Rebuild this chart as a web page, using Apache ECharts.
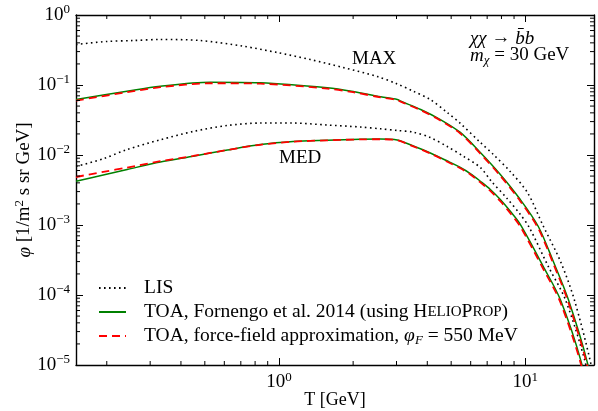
<!DOCTYPE html>
<html>
<head>
<meta charset="utf-8">
<script src="https://cdn.jsdelivr.net/npm/echarts@6/dist/echarts.min.js"></script>
<style>
  html, body { margin: 0; padding: 0; background: #fff; }
  #chart { width: 598px; height: 411px; }
</style>
</head>
<body>
<div id="chart"></div>
<script>
// axis ranges and tick values
const X_MIN = 0.15, X_MAX = 19
const Y_MIN = 1e-5, Y_MAX = 1
const X_MINOR = [0.2, 0.3, 0.4, 0.5, 0.6, 0.7, 0.8, 0.9, 2, 3, 4, 5, 6, 7, 8, 9]
const Y_MINOR = []
;[-5, -4, -3, -2, -1].forEach(k => {
  for (let m = 2; m <= 9; m++) Y_MINOR.push(m * Math.pow(10, k))
})

// [T in GeV, flux]
const maxLIS = [
  [0.150, 0.379], [0.199, 0.418], [0.256, 0.432], [0.330, 0.447], [0.479, 0.432],
  [0.716, 0.358], [0.984, 0.291], [1.34, 0.231], [1.82, 0.178], [2.51, 0.132],
  [2.99, 0.105], [3.51, 0.0815], [4.11, 0.0621], [4.82, 0.0405], [5.45, 0.0282],
  [6.57, 0.0151], [7.41, 0.0102], [8.68, 0.00581], [10.2, 0.00291], [11.8, 0.00098],
  [13.9, 0.000300], [15.8, 0.000086], [18.4, 0.0000109], [19.1, 0.0000045]
]
const maxTOA = [
  [0.150, 0.0621], [0.2415, 0.0815], [0.330, 0.0961], [0.527, 0.1096], [0.839, 0.1075],
  [1.571, 0.0912], [2.0, 0.0807], [2.588, 0.0678], [3.02, 0.0621], [3.12, 0.0587],
  [3.76, 0.0447], [4.52, 0.0321], [5.446, 0.0210], [6.567, 0.01086], [7.915, 0.00527],
  [9.54, 0.00231], [11.29, 0.000952], [12.99, 0.000301], [14.95, 0.000086],
  [17.85, 0.0000109], [18.53, 0.0000045]
]
const maxFF = [
  [0.150, 0.0600], [0.2415, 0.0788], [0.330, 0.0930], [0.527, 0.1060], [0.839, 0.1045],
  [1.571, 0.0890], [2.0, 0.0790], [2.588, 0.0665], [3.02, 0.0612], [3.12, 0.0578],
  [3.76, 0.0437], [4.52, 0.0312], [5.446, 0.0203], [6.567, 0.01045], [7.915, 0.00505],
  [9.54, 0.00219], [11.29, 0.00089], [12.99, 0.000280], [14.95, 0.000079],
  [17.85, 0.0000098], [18.53, 0.0000040]
]
const medLIS = [
  [0.150, 0.00685], [0.1935, 0.00883], [0.242, 0.0120], [0.330, 0.0165], [0.449, 0.0217],
  [0.617, 0.0264], [0.839, 0.0286], [1.14, 0.0286], [1.57, 0.0268], [2.14, 0.0251],
  [2.58, 0.0237], [3.02, 0.0224], [3.51, 0.0212], [4.11, 0.0178], [4.82, 0.0132],
  [5.60, 0.00961], [6.57, 0.00663], [7.28, 0.00422], [8.45, 0.00237], [9.55, 0.00141],
  [10.38, 0.00092], [12.4, 0.000255], [14.54, 0.000086], [17.52, 0.0000109], [18.2, 0.0000045]
]
const medTOA = [
  [0.150, 0.00422], [0.1935, 0.00518], [0.242, 0.00621], [0.330, 0.00794], [0.449, 0.00961],
  [0.617, 0.01179], [0.839, 0.0141], [1.14, 0.0156], [1.57, 0.01627], [2.14, 0.01683],
  [2.58, 0.01693], [3.02, 0.01638], [3.51, 0.01345], [4.115, 0.01069], [4.824, 0.00820],
  [5.446, 0.00663], [5.98, 0.00544], [6.567, 0.00422], [7.21, 0.00322], [7.915, 0.00231],
  [8.69, 0.00157], [9.54, 0.00102], [11.83, 0.000255], [13.87, 0.000086],
  [16.88, 0.0000109], [17.52, 0.0000045]
]
const medFF = [
  [0.150, 0.00485], [0.1935, 0.00575], [0.242, 0.00660], [0.330, 0.00815], [0.449, 0.00970],
  [0.617, 0.01180], [0.839, 0.0140], [1.14, 0.0155], [1.57, 0.0162], [2.14, 0.0167],
  [2.58, 0.0168], [3.02, 0.0162], [3.51, 0.0133], [4.115, 0.0105], [4.824, 0.0080],
  [5.446, 0.00645], [5.98, 0.00527], [6.567, 0.00406], [7.21, 0.00308], [7.915, 0.00219],
  [8.69, 0.00148], [9.54, 0.00095], [11.83, 0.000235], [13.87, 0.000079],
  [16.88, 0.0000098], [17.52, 0.0000040]
]

const NAME_LIS = 'LIS'
const NAME_HP = 'TOA, Fornengo et al. 2014 (using HelioProp)'
const NAME_FF = 'TOA, force-field approximation'

const FONT = 'Liberation Serif'

function makeRich(fs) {
  const s = Math.round(fs * 0.68)
  const lh = Math.round(fs * 1.2)
  return {
    t: {fontFamily: FONT, fontSize: fs, lineHeight: lh, color: '#000'},
    i: {fontFamily: FONT, fontSize: fs, fontStyle: 'italic', lineHeight: lh, color: '#000'},
    sup: {fontFamily: FONT, fontSize: s, verticalAlign: 'top', lineHeight: s, color: '#000'},
    subi: {fontFamily: FONT, fontSize: s, fontStyle: 'italic', verticalAlign: 'bottom', lineHeight: s, color: '#000'},
    sc: {fontFamily: FONT, fontSize: Math.round(fs * 0.78), lineHeight: lh, color: '#000'}
  }
}
const rich = makeRich(19)
const legendRich = makeRich(19.5)

function powLabel(v) {
  const e = Math.round(Math.log10(v))
  if (Math.abs(Math.log10(v) - e) > 1e-6) return ''
  return '{t|10}{sup|' + (e < 0 ? '\u2212' + (-e) : e) + '}'
}

function axisBase(min, max, pos, labels) {
  return {
    type: 'log', min: min, max: max, position: pos,
    axisLine: {show: true, onZero: false, lineStyle: {color: '#000', width: 1.4}},
    axisTick: {show: true, inside: true, length: 7, lineStyle: {color: '#000', width: 1}},
    axisLabel: {show: labels, formatter: powLabel, rich: rich, margin: 6,
      fontFamily: FONT, fontSize: 19, color: '#000'},
    splitLine: {show: false},
    minorTick: {show: false}
  }
}

const xBottom = Object.assign(axisBase(X_MIN, X_MAX, 'bottom', true), {
  name: '{t|T [GeV]}', nameLocation: 'middle', nameGap: 24, nameMoveOverlap: false,
  nameTextStyle: {rich: makeRich(18)}
})
const xTop = axisBase(X_MIN, X_MAX, 'top', false)
const yLeft = Object.assign(axisBase(Y_MIN, Y_MAX, 'left', true), {
  name: '{i|\u03c6}{t| [1/m}{sup|2}{t| s sr GeV]}', nameLocation: 'middle', nameGap: 40,
  nameMoveOverlap: false,
  nameTextStyle: {rich: rich}
})
const yRight = axisBase(Y_MIN, Y_MAX, 'right', false)

function lineSeries(name, data, style) {
  return {
    name: name, type: 'line', data: data, symbol: 'none', smooth: 0.3,
    clip: true, lineStyle: style, itemStyle: {color: style.color},
    z: style.z || 2
  }
}
const dotted = {color: '#000', width: 1.6, type: [1.6, 3.4], cap: 'butt'}
const green = {color: '#008000', width: 1.5, type: 'solid'}
const red = {color: '#ff0000', width: 1.8, type: [8, 5], z: 3}

function tickSeries(values, isX) {
  return {
    type: 'custom', silent: true, z: 10, clip: false,
    data: values.map(v => isX ? [v, 1e-3] : [1, v]),
    renderItem(params, api) {
      const st = {stroke: '#000', lineWidth: 1}
      if (isX) {
        const v = api.value(0)
        const b = api.coord([v, Y_MIN]), t = api.coord([v, Y_MAX])
        return {type: 'group', children: [
          {type: 'line', shape: {x1: b[0], y1: b[1], x2: b[0], y2: b[1] - 4}, style: st},
          {type: 'line', shape: {x1: t[0], y1: t[1], x2: t[0], y2: t[1] + 4}, style: st}
        ]}
      }
      const v = api.value(1)
      const l = api.coord([X_MIN, v]), r = api.coord([X_MAX, v])
      return {type: 'group', children: [
        {type: 'line', shape: {x1: l[0], y1: l[1], x2: l[0] + 4, y2: l[1]}, style: st},
        {type: 'line', shape: {x1: r[0], y1: r[1], x2: r[0] - 4, y2: r[1]}, style: st}
      ]}
    }
  }
}

const legendText = {}
legendText[NAME_LIS] = '{t|LIS}'
legendText[NAME_HP] = '{t|TOA, Fornengo et al. 2014 (using H}{sc|ELIO}{t|P}{sc|ROP}{t|)}'
legendText[NAME_FF] = '{t|TOA, force-field approximation, }{i|\u03c6}{subi|F}{t| = 550 MeV}'

const option = {
  animation: false,
  backgroundColor: '#fff',
  grid: {left: 76, right: 4, top: 15, bottom: 46, containLabel: false, outerBoundsMode: 'none'},
  xAxis: [xBottom, xTop],
  yAxis: [yLeft, yRight],
  legend: {
    orient: 'vertical', left: 93, top: 273, itemWidth: 27, itemHeight: 14, itemGap: 4,
    data: [NAME_LIS, NAME_HP, NAME_FF],
    formatter: n => legendText[n],
    itemStyle: {opacity: 0},
    textStyle: {rich: legendRich, padding: [0, 0, 0, 13], color: '#000'},
    selectedMode: false
  },
  series: [
    lineSeries(NAME_LIS, maxLIS, dotted),
    lineSeries(NAME_LIS, medLIS, dotted),
    lineSeries(NAME_HP, maxTOA, green),
    lineSeries(NAME_HP, medTOA, green),
    lineSeries(NAME_FF, maxFF, red),
    lineSeries(NAME_FF, medFF, red),
    tickSeries(X_MINOR, true),
    tickSeries(Y_MINOR, false)
  ],
  graphic: [
    {type: 'text', left: 352, top: 50, style: {text: '{t|MAX}', rich: rich}},
    {type: 'text', left: 279, top: 149, style: {text: '{t|MED}', rich: rich}},
    {type: 'text', left: 470, top: 29, style: {text: '{i|\u03c7\u03c7}{t| \u2192 }{i|b\u0304b}', rich: rich}},
    {type: 'text', left: 470, top: 46, style: {text: '{i|m}{subi|\u03c7}{t| = 30 GeV}', rich: rich}}
  ]
}

const chart = echarts.init(document.getElementById('chart'), null, {renderer: 'canvas'})
chart.setOption(option)
</script>
</body>
</html>
